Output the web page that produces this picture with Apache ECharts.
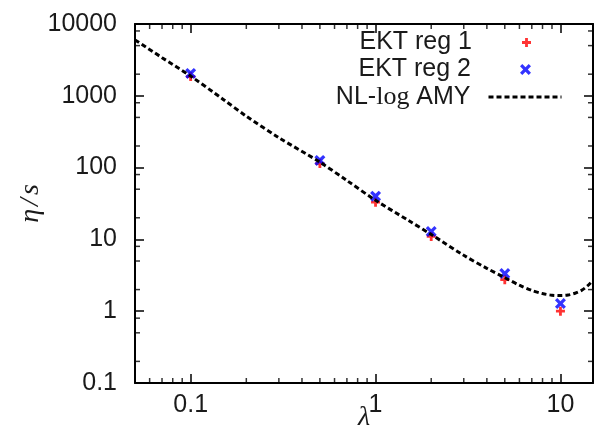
<!DOCTYPE html>
<html>
<head>
<meta charset="utf-8">
<script src="https://cdn.jsdelivr.net/npm/echarts@6/dist/echarts.min.js"></script>
<style>
html,body{margin:0;padding:0;background:#fff;}
#chart{width:594px;height:428px;}
</style>
</head>
<body>
<div id="chart"></div>
<script>
// ---- data ----
const lambdaPts = [0.1, 0.5, 1, 2, 5, 10];
const ektReg1 = [1850, 114, 33, 11.0, 2.75, 1.0];
const ektReg2 = [2050, 126, 40, 12.9, 3.35, 1.28];
const curveLambda = [0.05, 0.07, 0.1, 0.15, 0.2, 0.3, 0.5, 0.7, 1, 1.5, 2, 3, 4, 5, 6, 7, 8, 9, 10, 11, 12, 13, 14, 15];
const curveEta = [6000, 3400, 1880, 890, 520, 261, 119, 66, 35, 18.5, 11.7, 6.0, 3.95, 2.93, 2.3, 1.95, 1.76, 1.67, 1.65, 1.68, 1.78, 1.95, 2.25, 2.7];
const xMajorTicks = [0.1, 1, 10];
const xMinorTicks = [0.06, 0.07, 0.08, 0.09, 0.2, 0.3, 0.4, 0.5, 0.6, 0.7, 0.8, 0.9, 2, 3, 4, 5, 6, 7, 8, 9];
const yMajorTicks = [0.1, 1, 10, 100, 1000, 10000];
const yMinorTicks = [0.2, 0.5, 0.8, 2, 5, 8, 20, 50, 80, 200, 500, 800, 2000, 5000, 8000];
const seriesNames = ['EKT reg 1', 'EKT reg 2', 'NL-log AMY'];

const X_MIN = 0.05, X_MAX = 15, Y_MIN = 0.1, Y_MAX = 10000;
const LABEL_FONT = 'Liberation Sans, Arial, sans-serif';
const SERIF = 'Liberation Serif, DejaVu Serif, serif';
const FS = 25;
const MINOR_LEN = 5;

function fmt(v) { return String(+v); }

function makeXAxis(position, showLabel, name) {
  const ax = {
    type: 'log', logBase: 10, min: X_MIN, max: X_MAX, position: position,
    axisLine: {show: true, lineStyle: {color: '#000', width: 2}},
    axisTick: {show: true, inside: true, length: 9, customValues: xMajorTicks, lineStyle: {color: '#000', width: 1.5}},
    axisLabel: {show: showLabel, customValues: xMajorTicks, formatter: fmt, margin: 10, fontSize: FS, fontFamily: LABEL_FONT, color: '#1a1a1a'},
    splitLine: {show: false}, minorTick: {show: false}, minorSplitLine: {show: false}
  };
  if (name) {
    ax.name = name; ax.nameLocation = 'middle'; ax.nameGap = 21; ax.nameMoveOverlap = false;
    ax.nameTextStyle = {fontSize: 28, fontFamily: SERIF, fontStyle: 'italic', color: '#1a1a1a', verticalAlign: 'top'};
  }
  return ax;
}
function makeYAxis(position, showLabel, name) {
  const ax = {
    type: 'log', logBase: 10, min: Y_MIN, max: Y_MAX, position: position,
    axisLine: {show: true, lineStyle: {color: '#000', width: 2}},
    axisTick: {show: true, inside: true, length: 9, customValues: yMajorTicks, lineStyle: {color: '#000', width: 1.5}},
    axisLabel: {show: showLabel, customValues: yMajorTicks, formatter: fmt, margin: 18, fontSize: FS, fontFamily: LABEL_FONT, color: '#1a1a1a'},
    splitLine: {show: false}, minorTick: {show: false}, minorSplitLine: {show: false}
  };
  if (name) {
    ax.name = name; ax.nameLocation = 'middle'; ax.nameGap = 90; ax.nameRotate = 90; ax.nameMoveOverlap = false;
    ax.nameTextStyle = {fontSize: 28, fontFamily: SERIF, fontStyle: 'italic', color: '#1a1a1a',
      rich: {e: {fontSize: 28, fontFamily: SERIF, fontStyle: 'italic', color: '#1a1a1a'},
             sl: {fontSize: 28, fontFamily: SERIF, color: '#1a1a1a', padding: [0, 3, 0, 3]}}};
  }
  return ax;
}

const plusPath = 'path://M-1.1,-3.5H1.1V-1.1H3.5V1.1H1.1V3.5H-1.1V1.1H-3.5V-1.1H-1.1Z';
const crossPath = 'path://M-1,-0.58L-0.58,-1L0,-0.42L0.58,-1L1,-0.58L0.42,0L1,0.58L0.58,1L0,0.42L-0.58,1L-1,0.58L-0.42,0Z';

function legendFor(idx, centerY, rightPos, hideSymbol, h) {
  const lg = {
    data: [seriesNames[idx]], orient: 'vertical', align: 'right', right: rightPos, top: centerY - 13,
    padding: 0, itemWidth: 73, itemHeight: h, selectedMode: false,
    lineStyle: {width: 3, type: [5, 3]},
    formatter: function (n) { return n === 'NL-log AMY' ? '{a|NL-}{b|log}{a| AMY}' : n; },
    textStyle: {fontSize: FS, fontFamily: LABEL_FONT, color: '#1a1a1a', padding: [0, 13, 0, 0],
      rich: {a: {fontSize: FS, fontFamily: LABEL_FONT, color: '#1a1a1a'},
             b: {fontSize: 26, fontFamily: SERIF, color: '#1a1a1a'}}}
  };
  if (hideSymbol) lg.itemStyle = {color: 'rgba(0,0,0,0)', borderWidth: 0};
  return lg;
}

// minor ticks: thin rect symbols placed on the frame through the axis scales
function minorTickSeries(data, size, offset) {
  return {type: 'scatter', silent: true, clip: false, symbol: 'rect', symbolSize: size, symbolOffset: offset,
    itemStyle: {color: '#000'}, z: 1, data: data, emphasis: {disabled: true}};
}

const option = {
  backgroundColor: '#fff',
  animation: false,
  grid: {left: 135, right: 1, top: 24, bottom: 45, containLabel: false, outerBoundsMode: 'none'},
  legend: [legendFor(0, 43, 63, false, 9), legendFor(1, 70, 63, false, 11), legendFor(2, 97, 31, true, 9)],
  xAxis: [
    makeXAxis('bottom', true, 'λ'),
    makeXAxis('top', false)
  ],
  yAxis: [
    makeYAxis('left', true, '{e|η}{sl|/}{e|s}'),
    makeYAxis('right', false)
  ],
  series: [
    minorTickSeries(xMinorTicks.map(v => [v, Y_MIN]), [1.5, MINOR_LEN], [0, -MINOR_LEN / 2]),
    minorTickSeries(xMinorTicks.map(v => [v, Y_MAX]), [1.5, MINOR_LEN], [0, MINOR_LEN / 2]),
    minorTickSeries(yMinorTicks.map(v => [X_MIN, v]), [MINOR_LEN, 1.5], [MINOR_LEN / 2, 0]),
    minorTickSeries(yMinorTicks.map(v => [X_MAX, v]), [MINOR_LEN, 1.5], [-MINOR_LEN / 2, 0]),
    {name: seriesNames[0], type: 'scatter', symbol: plusPath, symbolSize: 9,
     itemStyle: {color: '#ff0000'}, data: lambdaPts.map((x, i) => [x, ektReg1[i]])},
    {name: seriesNames[1], type: 'scatter', symbol: crossPath, symbolSize: 11,
     itemStyle: {color: '#0000ff'}, data: lambdaPts.map((x, i) => [x, ektReg2[i]])},
    {name: seriesNames[2], type: 'line', symbol: 'none', smooth: 0.3, clip: true,
     lineStyle: {color: '#000', width: 3, type: [5, 3]}, itemStyle: {color: '#000'},
     data: curveLambda.map((x, i) => [x, curveEta[i]])}
  ]
};
const chart = echarts.init(document.getElementById('chart'), null, {renderer: 'canvas'});
chart.setOption(option);
</script>
</body>
</html>
